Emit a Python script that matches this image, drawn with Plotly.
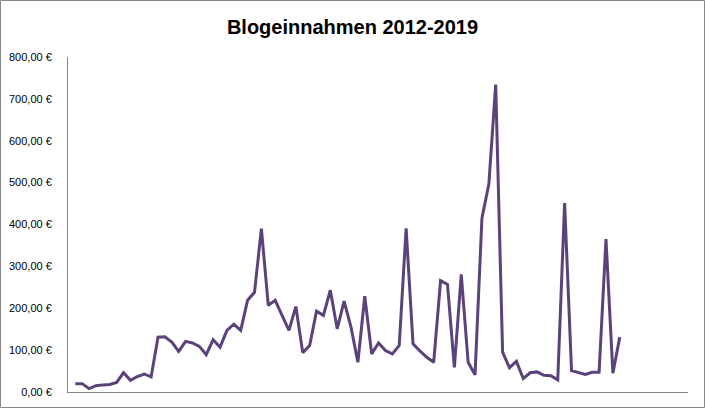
import plotly.graph_objects as go

# Data
monate = list(range(80))
einnahmen = [20, 20, 8, 15, 17, 18, 23, 46, 28, 37,
             43, 36, 131, 132, 119, 97, 121, 117, 109, 89,
             125, 107, 147, 162, 147, 219, 238, 390, 207, 219,
             183, 147, 204, 94, 111, 193, 183, 243, 151, 217,
             155, 71, 229, 91, 117, 99, 91, 111, 391, 115,
             98, 83, 71, 266, 257, 59, 281, 71, 41, 415,
             496, 734, 95, 58, 73, 32, 46, 48, 40, 39,
             29, 451, 51, 47, 42, 47, 47, 365, 45, 131]
y_tickvals = [0, 100, 200, 300, 400, 500, 600, 700, 800]
y_ticktext = ["0,00 €", "100,00 €", "200,00 €", "300,00 €", "400,00 €",
              "500,00 €", "600,00 €", "700,00 €", "800,00 €"]
titel = "Blogeinnahmen 2012-2019"

W, H = 705, 408
L, R, T, B = 68, 17, 57, 16

fig = go.Figure()
fig.add_trace(go.Scatter(
    x=monate, y=einnahmen, mode="lines",
    line=dict(color="rgb(91,66,122)", width=3),
    hoverinfo="y",
    cliponaxis=False,
))

pw = W - L - R
ph = H - T - B
fig.update_layout(
    width=W, height=H,
    margin=dict(l=L, r=R, t=T, b=B, pad=0, autoexpand=False),
    paper_bgcolor="white", plot_bgcolor="white",
    showlegend=False,
    title=dict(text="<b>" + titel + "</b>", x=0.5, xanchor="center",
               xref="container", y=1 - 27 / H, yanchor="middle", yref="container",
               automargin=False,
               font=dict(family="Liberation Sans, Arial, sans-serif", size=20, color="black")),
    font=dict(family="Liberation Sans, Arial, sans-serif", size=11, color="black"),
    xaxis=dict(range=[-1.06, 88.9], showgrid=False, zeroline=False,
               showline=True, linecolor="#868686", linewidth=1,
               showticklabels=False, ticks="", automargin=False),
    yaxis=dict(range=[0, 800], showgrid=False, zeroline=False,
               showline=True, linecolor="#868686", linewidth=1,
               tickvals=y_tickvals, ticktext=y_ticktext, ticks="",
               ticklabelstandoff=13, automargin=False,
               tickfont=dict(size=11, color="black")),
    shapes=[dict(type="rect", xref="paper", yref="paper",
                 x0=(0.5 - L) / pw, x1=(W - 0.5 - L) / pw,
                 y0=-(B - 0.5) / ph, y1=1 + (T - 0.5) / ph,
                 line=dict(color="#888888", width=1), fillcolor="rgba(0,0,0,0)",
                 layer="above")],
)

fig.write_html("out.html",
               config={"displayModeBar": False},
               post_script="document.body.style.margin='0';document.body.style.overflow='hidden';")
